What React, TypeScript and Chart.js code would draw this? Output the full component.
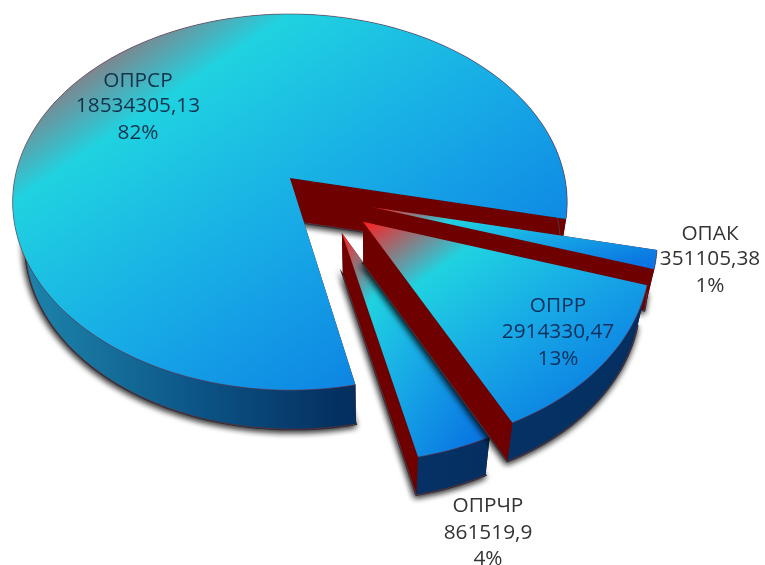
import React, { useEffect, useRef } from "react";
import { Chart, registerables } from "chart.js";

Chart.register(...registerables);

const categories = ["ОПРСР", "ОПАК", "ОПРР", "ОПРЧР"];
const values = [18534305.13, 351105.38, 2914330.47, 861519.9];
const percents = ["82%", "1%", "13%", "4%"];

// Explosion of each slice, in units of the pie radius, on the pie's own plane
const explodeX = [0.005, 0.3, 0.263, 0.187];
const explodeY = [0, 0.155, 0.23, 0.286];
const paintOrder = [0, 1, 3, 2];
const labelX = [138, 710, 558, 488];
const labelY = [[81, 106, 133], [234, 259, 286], [306, 332, 359], [506, 533, 559]];
const labelColors = ["#12334d", "#333333", "#0d2f5c", "#333333"];

const CX = 288.5, CY = 178, RX = 275, RY = 185, K = 0.128;
type P = { x: number; y: number };
const project = (u: number, v: number): P => {
  const d = 1 - K * v;
  return { x: CX + (RX * u) / d, y: CY + (RY * v) / d };
};
const lower = (p: P): P => ({
  x: 370 + (p.x - 370) * 0.965,
  y: 177 + (p.y - 177) * 0.982 + 43,
});
const poly = (ctx: CanvasRenderingContext2D, pts: P[], close = true) => {
  ctx.beginPath();
  pts.forEach((p, i) => (i ? ctx.lineTo(p.x, p.y) : ctx.moveTo(p.x, p.y)));
  if (close) ctx.closePath();
};

const drawSlice = (ctx: CanvasRenderingContext2D, start: number, end: number, i: number) => {
  const ox = explodeX[i], oy = explodeY[i];
  const apex = project(ox, oy);
  const steps = Math.max(6, Math.ceil((end - start) * 40));
  const rim: P[] = [];
  for (let s = 0; s <= steps; s++) {
    const a = start + ((end - start) * s) / steps;
    rim.push(project(ox + Math.cos(a), oy + Math.sin(a)));
  }
  const rimLow = rim.map(lower);
  const apexLow = lower(apex);
  const top = [apex, ...rim];
  const xs = top.map((p) => p.x), ys = top.map((p) => p.y);
  const x0 = Math.min(...xs), x1 = Math.max(...xs), y0 = Math.min(...ys), y1 = Math.max(...ys);
  const w = x1 - x0, h = y1 - y0;
  const last = rim.length - 1;

  // soft shadow under the solid
  ctx.save();
  ctx.shadowColor = "rgba(0,0,0,0.95)";
  ctx.shadowBlur = 6;
  ctx.shadowOffsetX = -1;
  ctx.shadowOffsetY = 2;
  ctx.fillStyle = "#1c2a3a";
  ctx.strokeStyle = "#1c2a3a";
  ctx.lineWidth = 2;
  poly(ctx, [apexLow, ...rimLow]);
  ctx.fill();
  ctx.stroke();
  ctx.restore();

  // hidden cut wall, then the outer side, then the visible cut wall
  ctx.fillStyle = "#6e0000";
  poly(ctx, [apex, rim[0], rimLow[0], apexLow]);
  ctx.fill();

  const side = ctx.createLinearGradient(x0, 0, x1, 0);
  if (i === 0) {
    side.addColorStop(0, "#1c86ae");
    side.addColorStop(0.12, "#1877a0");
    side.addColorStop(0.35, "#0b5284");
    side.addColorStop(0.6, "#042f5e");
    side.addColorStop(1, "#042f5e");
  } else {
    side.addColorStop(0, "#06346a");
    side.addColorStop(1, "#052f60");
  }
  ctx.fillStyle = side;
  poly(ctx, [...rim, ...[...rimLow].reverse()]);
  ctx.fill();

  ctx.fillStyle = "#6e0000";
  poly(ctx, [apex, rim[last], rimLow[last], apexLow]);
  ctx.fill();

  ctx.strokeStyle = "#5a3036";
  ctx.lineWidth = 1;
  poly(ctx, [...rimLow, apexLow], false);
  ctx.stroke();

  // top face: gradient runs along the box diagonal's normal, as in Office charts
  const len = Math.hypot(h, w);
  const dx = h / len, dy = w / len;
  const span = w * dx + h * dy;
  const g = ctx.createLinearGradient(x0, y0, x0 + dx * span, y0 + dy * span);
  g.addColorStop(0, "#ff1c1c");
  g.addColorStop(0.25, "#20d2e0");
  g.addColorStop(0.55, "#17a8e6");
  g.addColorStop(0.9, "#0a78e2");
  g.addColorStop(1, "#0a72e2");
  ctx.fillStyle = g;
  poly(ctx, top);
  ctx.fill();
  ctx.strokeStyle = "rgba(110,40,60,0.55)";
  poly(ctx, rim, false);
  ctx.stroke();
};

const pie3d = {
  id: "pie3d",
  beforeDatasetsDraw(chart: any) {
    const { ctx } = chart;
    const arcs = chart.getDatasetMeta(0).data;
    paintOrder.forEach((i) => drawSlice(ctx, arcs[i].startAngle, arcs[i].endAngle, i));
    return false;
  },
  afterDraw(chart: any) {
    const { ctx } = chart;
    ctx.save();
    ctx.font = '20.8px "Open Sans"';
    ctx.textAlign = "center";
    ctx.textBaseline = "middle";
    categories.forEach((c, i) => {
      const lines = [c, String(values[i]).replace(".", ","), percents[i]];
      ctx.fillStyle = labelColors[i];
      lines.forEach((t, k) => ctx.fillText(t, labelX[i], labelY[i][k]));
    });
    ctx.restore();
  },
};

export default function App() {
  const ref = useRef<HTMLCanvasElement>(null);
  useEffect(() => {
    const chart = new Chart(ref.current as HTMLCanvasElement, {
      type: "pie",
      data: { labels: categories, datasets: [{ data: values, borderWidth: 0 }] },
      options: {
        animation: false,
        responsive: false,
        rotation: 168,
        plugins: { legend: { display: false }, tooltip: { enabled: false } },
      },
      plugins: [pie3d],
    } as any);
    return () => chart.destroy();
  }, []);
  return (
    <div style={{ position: "absolute", left: 0, top: 0, width: 765, height: 565, background: "#fff" }}>
      <canvas ref={ref} width={765} height={565} style={{ display: "block" }} />
    </div>
  );
}
